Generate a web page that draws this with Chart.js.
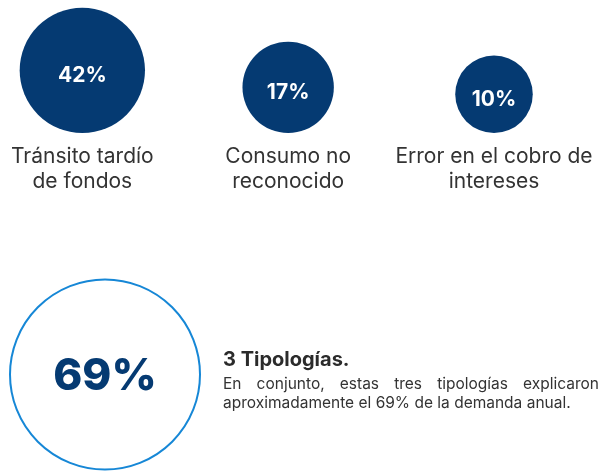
<!DOCTYPE html>
<html>
<head>
<meta charset="utf-8">
<script src="https://cdn.jsdelivr.net/npm/chart.js@4.4.1/dist/chart.umd.min.js"></script>
<style>
  body { margin: 0; background: #fff; width: 605px; height: 471px; overflow: hidden; position: relative; }
  canvas { position: absolute; left: 0; }
  #topChart { top: 0; }
  #totalChart { top: 200px; }
  #note { position: absolute; left: 223px; top: 347px; width: 376px; font-family: Inter, sans-serif; color: #2b2b2b; }
  #note h3 { margin: 0; font-size: 20px; font-weight: 700; line-height: 24px; }
  #note p { margin: 3px 0 0 0; font-size: 15.5px; line-height: 19px; text-align: justify; color: #333; }
</style>
</head>
<body>
<canvas id="topChart" width="605" height="212"></canvas>
<canvas id="totalChart" width="605" height="271"></canvas>
<div id="note">
  <h3>3 Tipologías.</h3>
  <p>En conjunto, estas tres tipologías explicaron aproximadamente el 69% de la demanda anual.</p>
</div>
<script>
var categories = [['Tránsito tardío', 'de fondos'], ['Consumo no', 'reconocido'], ['Error en el cobro de', 'intereses']];
var shares = [42, 17, 10];
var total = [69];

var navy = '#053a72';

// bubbles sit on a common baseline: lift each by its radius
var baselinePlugin = {
    id: 'baseline',
    afterDatasetsUpdate: function(chart) {
        var base = chart.scales.y.getPixelForValue(0);
        chart.getDatasetMeta(0).data.forEach(function(el) {
            el.y = base - el.options.radius;
        });
    }
};

var valueLabels = {
    id: 'valueLabels',
    afterDatasetsDraw: function(chart, args, opts) {
        var ctx = chart.ctx;
        var meta = chart.getDatasetMeta(0);
        ctx.save();
        ctx.textAlign = 'center';
        ctx.textBaseline = 'middle';
        ctx.fillStyle = opts.color;
        ctx.font = opts.font;
        meta.data.forEach(function(el, i) {
            var v = chart.data.datasets[0].data[i].v;
            ctx.fillText(v + '%', el.x, el.y + opts.offset);
        });
        ctx.restore();
    }
};

new Chart(document.getElementById('topChart'), {
    type: 'bubble',
    data: {
        labels: categories,
        datasets: [{
            data: shares.map(function(v, i) { return {x: i, y: 0, v: v}; }),
            backgroundColor: navy,
            borderWidth: 0,
            radius: function(ctx) { return 16 + 7.2 * Math.sqrt(ctx.raw.v); },
            clip: false
        }]
    },
    options: {
        responsive: false,
        animation: false,
        events: [],
        layout: { autoPadding: false, padding: { left: 82, right: 111, top: 0, bottom: 7 } },
        plugins: {
            legend: { display: false },
            tooltip: { enabled: false },
            valueLabels: { color: '#ffffff', font: '700 21px Inter, sans-serif', offset: 5 }
        },
        scales: {
            x: {
                type: 'category',
                offset: false,
                grid: { display: false, drawTicks: false },
                border: { display: false },
                ticks: {
                    padding: 11,
                    color: '#333333',
                    font: { family: 'Inter, sans-serif', size: 21, lineHeight: 1.19 },
                    maxRotation: 0,
                    autoSkip: false
                }
            },
            y: { display: false, min: 0, max: 1 }
        }
    },
    plugins: [baselinePlugin, valueLabels]
});

new Chart(document.getElementById('totalChart'), {
    type: 'bubble',
    data: {
        datasets: [{
            data: total.map(function(v) { return {x: 0, y: 0, v: v}; }),
            backgroundColor: '#ffffff',
            borderColor: '#1687d6',
            borderWidth: 2,
            radius: 95,
            clip: false
        }]
    },
    options: {
        responsive: false,
        animation: false,
        events: [],
        layout: { autoPadding: false, padding: { left: 105, right: 0, top: 78, bottom: 0 } },
        plugins: {
            legend: { display: false },
            tooltip: { enabled: false },
            valueLabels: { color: navy, font: '800 44px Inter, sans-serif', offset: 2 }
        },
        scales: {
            x: { display: false, min: 0, max: 1 },
            y: { display: false, min: -1, max: 1 }
        }
    },
    plugins: [valueLabels]
});
</script>
</body>
</html>
